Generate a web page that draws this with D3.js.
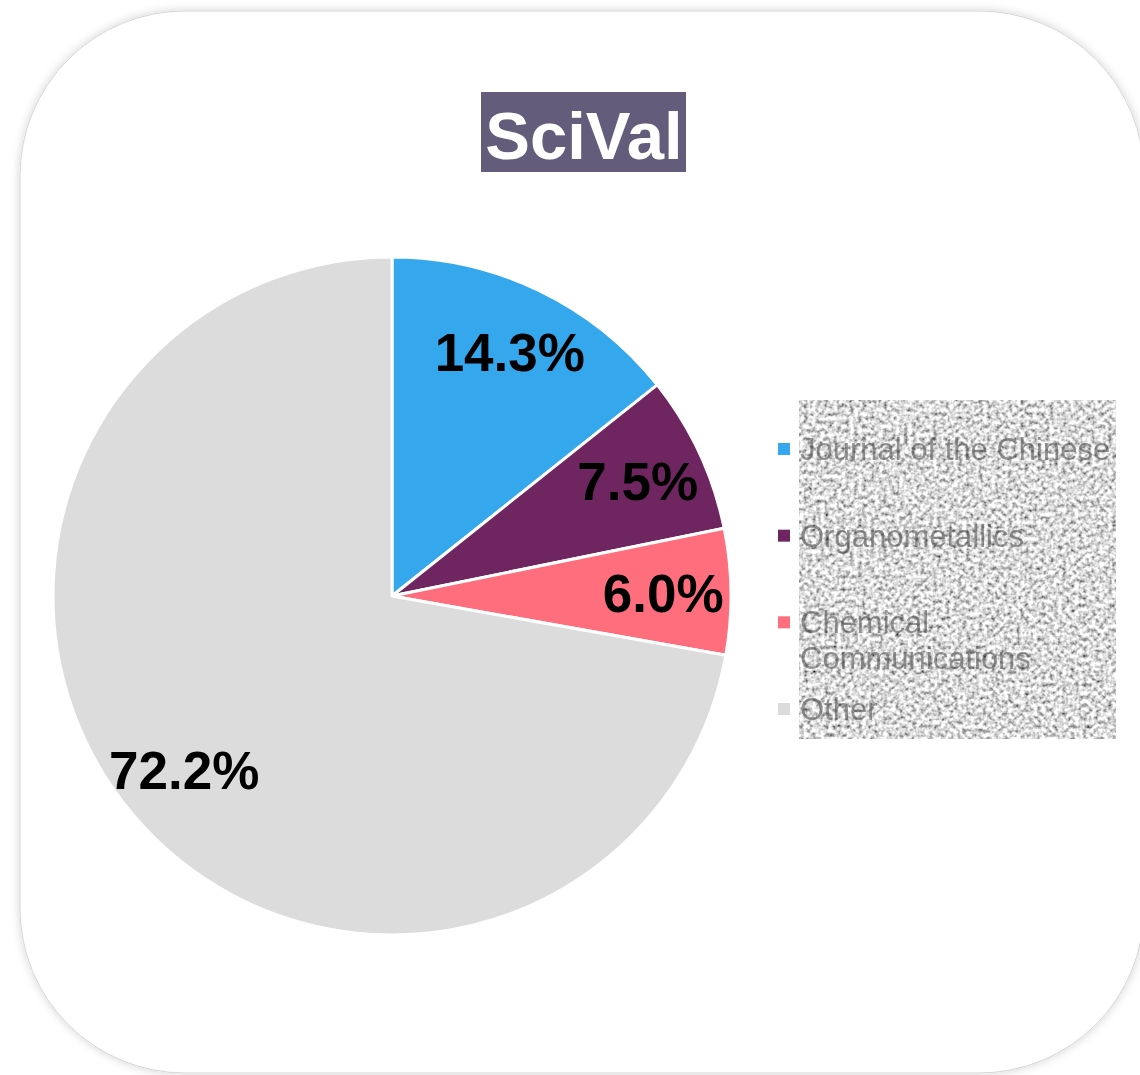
<!DOCTYPE html>
<html>
<head>
<meta charset="utf-8">
<script src="https://cdn.jsdelivr.net/npm/d3@7"></script>
<style>
  html, body { margin: 0; padding: 0; background: #ffffff; }
  svg { display: block; }
</style>
</head>
<body>
<svg id="chart" width="1140" height="1075"></svg>
<script>
// ---- data ----
const categories = ["Journal of the Chinese", "Organometallics", "Chemical Communications", "Other"];
const legendLines = [["Journal of the Chinese"], ["Organometallics"], ["Chemical", "Communications"], ["Other"]];
const values = [14.3, 7.5, 6.0, 72.2];
const colors = ["#35a7ec", "#6f2660", "#ff6e7d", "#dcdcdc"];
const title = "SciVal";

// ---- layout ----
const svg = d3.select("#chart");
const cx = 392, cy = 596, R = 339;

const defs = svg.append("defs");
const sh = defs.append("filter").attr("id", "shadow").attr("x", "-5%").attr("y", "-5%").attr("width", "110%").attr("height", "110%");
sh.append("feDropShadow").attr("dx", 0).attr("dy", 0).attr("stdDeviation", 5)
  .attr("flood-color", "#000").attr("flood-opacity", 0.18);

const nf = defs.append("filter").attr("id", "noise").attr("x", 0).attr("y", 0).attr("width", "100%").attr("height", "100%");
nf.append("feTurbulence").attr("type", "fractalNoise").attr("baseFrequency", 0.24)
  .attr("numOctaves", 2).attr("seed", 11).attr("result", "t");
nf.append("feColorMatrix").attr("in", "t").attr("type", "matrix")
  .attr("values", "1.8 0 0 0 -0.19  1.8 0 0 0 -0.19  1.8 0 0 0 -0.19  0 0 0 0 1").attr("result", "g");
nf.append("feGaussianBlur").attr("in", "g").attr("stdDeviation", 0.6);

defs.append("clipPath").attr("id", "patchClip")
  .append("rect").attr("x", 799).attr("y", 400).attr("width", 317).attr("height", 339);

const tb = defs.append("filter").attr("id", "soft");
tb.append("feGaussianBlur").attr("stdDeviation", 0.6);

// card
svg.append("rect")
  .attr("x", 20).attr("y", 11).attr("width", 1124).attr("height", 1062)
  .attr("rx", 165).attr("ry", 165)
  .attr("fill", "#ffffff").attr("stroke", "#d6d6d6").attr("stroke-width", 1)
  .attr("filter", "url(#shadow)");

// title
const tg = svg.append("g");
tg.append("rect").attr("x", 481).attr("y", 92).attr("width", 205).attr("height", 80).attr("fill", "#635d7b");
tg.append("text")
  .attr("x", 584).attr("y", 159)
  .attr("text-anchor", "middle")
  .attr("font-family", "Liberation Sans, Arial, sans-serif")
  .attr("font-weight", "bold").attr("font-size", 67)
  .attr("fill", "#ffffff")
  .text(title);

// pie
const pie = d3.pie().sort(null).value(d => d.v);
const data = pie(values.map((v, i) => ({ v, c: categories[i], col: colors[i] })));
const arc = d3.arc().innerRadius(0).outerRadius(R);
const labelArc = d3.arc().innerRadius(R * 0.8).outerRadius(R * 0.8);

const pg = svg.append("g").attr("transform", `translate(${cx},${cy})`);
pg.selectAll("path.slice").data(data).join("path")
  .attr("class", "slice")
  .attr("d", arc)
  .attr("fill", d => d.data.col)
  .attr("stroke", "#ffffff").attr("stroke-width", 3).attr("stroke-linejoin", "round");

pg.selectAll("text.lbl").data(data).join("text")
  .attr("class", "lbl")
  .attr("transform", d => { const c = labelArc.centroid(d); return `translate(${c[0]},${c[1] + 19})`; })
  .attr("text-anchor", "middle")
  .attr("font-family", "Liberation Sans, Arial, sans-serif")
  .attr("font-weight", "bold").attr("font-size", 53)
  .attr("fill", "#000000")
  .text(d => d.data.v.toFixed(1) + "%");

// legend noise patch
svg.append("rect").attr("x", 799).attr("y", 400).attr("width", 317).attr("height", 339)
  .attr("fill", "#bbb").attr("filter", "url(#noise)");

// legend
const legY = d3.scalePoint().domain(categories).range([449, 709]);
const lg = svg.append("g");
lg.selectAll("rect.sw").data(categories).join("rect")
  .attr("class", "sw")
  .attr("x", 778).attr("y", d => legY(d) - 6).attr("width", 12).attr("height", 12)
  .attr("fill", (d, i) => colors[i]);

const lt = svg.append("g").attr("clip-path", "url(#patchClip)");
lt.selectAll("text.lt").data(categories).join("text")
  .attr("class", "lt")
  .attr("x", 800)
  .attr("y", d => legY(d) + 11)
  .attr("font-family", "Liberation Sans, Arial, sans-serif")
  .attr("font-size", 31)
  .attr("fill", "#404040").attr("fill-opacity", 0.55)
  .attr("filter", "url(#soft)")
  .each(function (d, i) {
    const t = d3.select(this);
    legendLines[i].forEach((ln, j) => {
      t.append("tspan").attr("x", 800).attr("dy", j === 0 ? 0 : 36).text(ln);
    });
  });
</script>
</body>
</html>
